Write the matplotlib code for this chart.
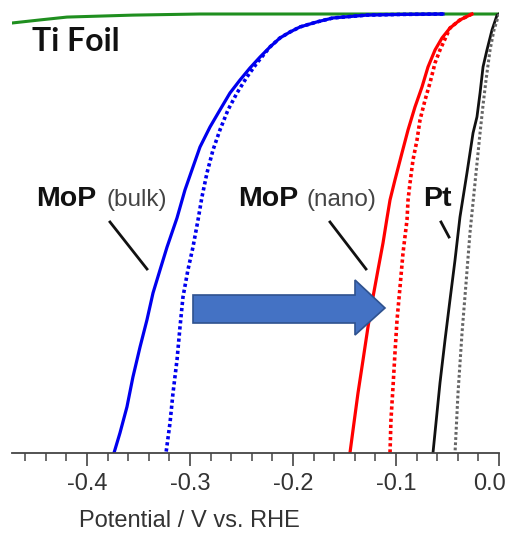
import matplotlib
matplotlib.use("Agg")
import numpy as np
import matplotlib.pyplot as plt
from matplotlib.patches import Polygon
from matplotlib.lines import Line2D
from matplotlib.ticker import MultipleLocator, FixedLocator, FixedFormatter
from matplotlib.transforms import ScaledTranslation

# Polarization curves: potential (mV vs. RHE) and current density (mA cm^-2)
ti_mv = [-472.8, -445.6, -419.4, -355.3, -290.3, 0.0]
ti_j = [-0.41, -0.27, -0.14, -0.05, 0.0, 0.0]

bulk_mv = [-54.4, -96.1, -128.2, -161.2, -176.7, -193.2, -202.9, -212.6, -222.3,
           -232.0, -241.8, -251.5, -261.2, -270.9, -280.6, -290.3, -297.1, -304.9,
           -312.6, -322.3, -329.1, -335.9, -341.8, -348.5, -355.4, -361.2, -368.0,
           -373.8]
bulk_j = [0.0, -0.02, -0.05, -0.18, -0.36, -0.59, -0.82, -1.09, -1.50,
          -1.96, -2.46, -3.01, -3.60, -4.37, -5.15, -6.06, -6.97, -8.02,
          -9.29, -10.62, -11.66, -12.71, -13.94, -15.17, -16.54, -17.90, -19.09,
          -20.0]

bulk_b_mv = [-54.4, -96.1, -128.2, -161.2, -176.7, -193.2, -202.9, -212.6, -222.3,
             -235.0, -244.7, -254.4, -263.1, -270.9, -277.7, -283.5, -288.4, -292.2,
             -297.1, -302.0, -306.8, -309.7, -312.6, -316.5, -319.4, -323.3]
bulk_b_j = [0.0, -0.02, -0.05, -0.18, -0.36, -0.59, -0.82, -1.09, -1.50,
            -2.23, -2.87, -3.60, -4.37, -5.28, -6.20, -7.24, -8.34, -9.38,
            -10.62, -11.66, -12.89, -14.26, -15.76, -17.27, -18.63, -20.0]

nano_mv = [-26.2, -37.9, -47.6, -55.3, -62.1, -68.9, -74.8, -81.6, -88.3, -94.2,
           -101.0, -105.8, -108.7, -112.6, -117.5, -122.3, -127.2, -132.0, -136.9,
           -140.8, -144.7]
nano_j = [0.0, -0.27, -0.64, -1.09, -1.64, -2.41, -3.33, -4.24, -5.28, -6.33,
          -7.56, -8.47, -9.29, -10.43, -11.66, -12.89, -14.26, -15.76, -17.27,
          -18.63, -20.0]

nano_b_mv = [-26.2, -37.9, -47.6, -57.3, -62.1, -67.0, -71.8, -76.7, -79.6, -83.5,
             -86.4, -88.3, -89.3, -93.2, -96.1, -99.0, -101.0, -102.9, -104.9,
             -105.8]
nano_b_j = [0.0, -0.27, -0.64, -1.64, -2.23, -3.14, -3.92, -4.83, -5.74, -6.65,
            -7.70, -8.47, -9.38, -10.89, -12.44, -13.94, -15.44, -16.99, -18.50,
            -20.0]

pt_mv = [0.0, -1.9, -6.8, -11.7, -15.5, -18.4, -21.4, -25.2, -31.1, -37.9, -42.7,
         -47.6, -52.4, -57.3, -64.1]
pt_j = [0.0, -0.05, -0.73, -1.64, -2.41, -3.60, -4.69, -5.42, -7.24, -9.25, -11.21,
        -13.03, -14.85, -16.81, -20.0]

pt_b_mv = [0.0, -4.9, -8.7, -12.6, -15.5, -18.4, -23.3, -28.2, -32.0, -35.9, -39.8,
           -42.7]
pt_b_j = [0.0, -0.73, -1.64, -3.01, -4.15, -5.42, -7.70, -9.98, -12.26, -14.53,
          -17.27, -20.0]

tick_values = [-0.4, -0.3, -0.2, -0.1, 0.0]
tick_labels = ["-0.4", "-0.3", "-0.2", "-0.1", "0.0"]

W, H = 509, 533
fig = plt.figure(figsize=(W / 100, H / 100), dpi=100)
ax = fig.add_axes([12 / W, 80 / H, 487 / W, 453 / H])


def fx(px):
    return px / W


def fy(py):
    return 1 - py / H


def volts(mv):
    return np.asarray(mv) / 1000.0


dots = (0, (0.9, 0.8))
ax.plot(volts(ti_mv), ti_j, color="#1f8f1f", lw=2.2, solid_capstyle="round")
ax.plot(volts(bulk_mv), bulk_j, color="#0000ee", lw=2.3, solid_joinstyle="round")
ax.plot(volts(bulk_b_mv), bulk_b_j, color="#0000ee", lw=2.6, ls=dots)
ax.plot(volts(nano_mv), nano_j, color="#ff0000", lw=2.3, solid_joinstyle="round")
ax.plot(volts(nano_b_mv), nano_b_j, color="#ff0000", lw=2.6, ls=dots)
ax.plot(volts(pt_mv), pt_j, color="#111111", lw=2.0, solid_joinstyle="round")
ax.plot(volts(pt_b_mv), pt_b_j, color="#666666", lw=2.2, ls=dots)

ax.set_xlim(-0.4728, 0.0)
ax.set_ylim(-20.0, 0.638)

for s in ("left", "right", "top"):
    ax.spines[s].set_visible(False)
ax.spines["bottom"].set_color("#444444")
ax.spines["bottom"].set_linewidth(1.3)
ax.set_yticks([])

ax.xaxis.set_major_locator(FixedLocator(tick_values))
ax.xaxis.set_major_formatter(FixedFormatter(tick_labels))
ax.xaxis.set_minor_locator(MultipleLocator(0.02))
ax.tick_params(axis="x", which="major", direction="out", length=9.5, width=1.2,
               color="#444444", pad=5, labelsize=17, labelcolor="#333333")
ax.tick_params(axis="x", which="minor", direction="out", length=5.5, width=1.1,
               color="#444444")
xlabels = ax.get_xticklabels()
for lab in xlabels:
    lab.set_fontfamily("Liberation Sans")
# nudge the end label so it stays inside the canvas
xlabels[-1].set_transform(xlabels[-1].get_transform()
                          + ScaledTranslation(-0.09, 0, fig.dpi_scale_trans))

ax.set_xlabel("Potential / V vs. RHE", fontsize=17, color="#333333",
              fontfamily="Liberation Sans")
ax.xaxis.set_label_coords((189 - 12) / 487, (453 - 510) / 453)

# Curve labels
fig.text(fx(32), fy(51), "Ti Foil", fontsize=23, fontweight="bold",
         fontfamily="Lato", color="#111111", va="baseline")
fig.text(fx(36), fy(206), "MoP", fontsize=20.5, fontweight="bold",
         fontfamily="Liberation Sans", color="#111111", va="baseline")
fig.text(fx(106), fy(206), "(bulk)", fontsize=17.5,
         fontfamily="Liberation Sans", color="#444444", va="baseline")
fig.text(fx(238), fy(206), "MoP", fontsize=20.5, fontweight="bold",
         fontfamily="Liberation Sans", color="#111111", va="baseline")
fig.text(fx(307), fy(206), "(nano)", fontsize=17.5,
         fontfamily="Liberation Sans", color="#444444", va="baseline")
fig.text(fx(423), fy(206), "Pt", fontsize=20.5, fontweight="bold",
         fontfamily="Liberation Sans", color="#111111", va="baseline")

# Leader lines from labels to curves
for (x0, y0), (x1, y1) in [((110, 222), (147, 269)),
                           ((330, 222), (366, 269)),
                           ((441, 222), (449, 237))]:
    fig.add_artist(Line2D([fx(x0), fx(x1)], [fy(y0), fy(y1)],
                          color="#111111", lw=2.0, transform=fig.transFigure))

# Improvement arrow
arrow_px = [(193, 295), (355, 295), (355, 280), (385, 308),
            (355, 335), (355, 323), (193, 323)]
fig.add_artist(Polygon([(fx(x), fy(y)) for x, y in arrow_px], closed=True,
                       facecolor="#4472c4", edgecolor="#2f528f", lw=1.2,
                       transform=fig.transFigure))

fig.savefig("out.png", dpi=100)
